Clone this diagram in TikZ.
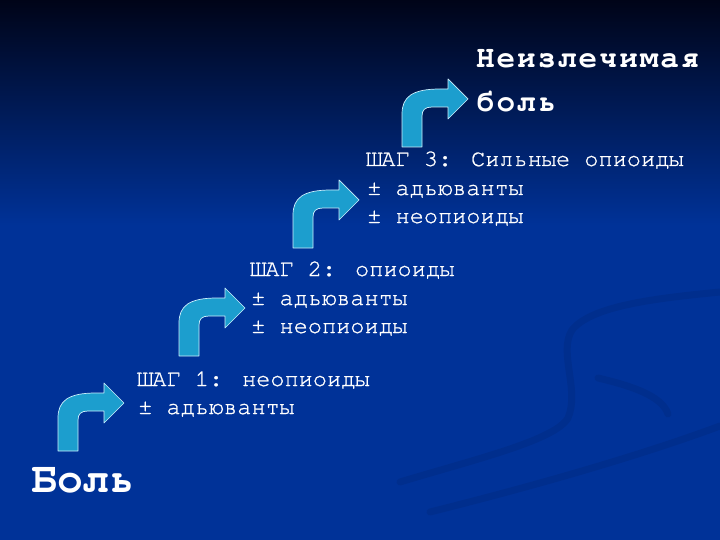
\documentclass[tikz,border=0pt]{standalone}
\usepackage{fontspec}
\setmonofont{FreeMono}
\newfontfamily\stepfont[FakeBold=1]{FreeMono}
\newfontfamily\goalfont[LetterSpace=6]{FreeMono}
\usetikzlibrary{positioning}

\definecolor{slidetop}{RGB}{0,4,24}
\definecolor{slidebot}{RGB}{0,50,152}
\definecolor{arrowblue}{RGB}{28,158,206}

\begin{document}
\begin{tikzpicture}[x=1pt, y=-1pt, line join=round]
    \tikzset{%
      apply style/.code  = {\tikzset{#1}},
      bent_arrow/.style  = {fill=arrowblue, draw=white!80!cyan, line width=0.7pt},
      swoosh/.style      = {line width=7pt, line cap=round, draw=black, opacity=0.07},
      step_text/.style   = {anchor=base west, inner sep=0pt, text=white,
                            font=\stepfont\fontsize{23.6}{28}\selectfont},
      pain_text/.style   = {anchor=base west, inner sep=0pt, text=white,
                            font=\ttfamily\bfseries\fontsize{43}{50}\selectfont},
      goal_text/.style   = {anchor=base west, inner sep=0pt, text=white,
                            font=\goalfont\bfseries\fontsize{31}{34}\selectfont}
    }
    \useasboundingbox (0,0) rectangle (720,540);

    % background
    \fill[slidebot] (0,0) rectangle (720,540);
    \shade[top color=slidetop, bottom color=slidebot] (0,0) rectangle (720,225);
    \draw[swoosh] (400,482) .. controls (480,458) and (555,440) .. (568,418)
                            .. controls (580,390) and (558,352) .. (572,330)
                            .. controls (592,305) and (660,298) .. (720,292);
    \draw[swoosh] (430,512) .. controls (550,482) and (650,452) .. (720,426);
    \draw[swoosh] (598,378) .. controls (632,386) and (662,396) .. (668,414);

    % the four bent arrows
    \foreach \bx/\by in {58/451, 179/356, 293/248, 402/147}{
      \begin{scope}[shift={(\bx,\by)}]
        \draw[bent_arrow]
          (0,0)                                          --
          (0,-33)  .. controls (0,-50) and (10,-58) .. (38,-58) --
          (46,-58)                                       -- % head, upper corner
          (46,-68)                                       --
          (66,-48)                                       -- % tip
          (46,-28)                                       --
          (46,-40)                                       --
          (30,-40) .. controls (23,-40) and (20,-37) .. (20,-31) --
          (20,0)                                         --
          cycle;
      \end{scope}
    }

    % texts
    \node[pain_text] (pain) at (31,492) {Боль};
    \foreach \nm/\tx/\ty/\txt in {%
        step1a/138/386/{ШАГ 1: неопиоиды},
        step1b/138/414/{± адьюванты},
        step2a/251/276/{ШАГ 2: опиоиды},
        step2b/251/305/{± адьюванты},
        step2c/251/333/{± неопиоиды},
        step3a/367/166/{ШАГ 3: Сильные опиоиды},
        step3b/367/195/{± адьюванты},
        step3c/367/223/{± неопиоиды}%
    }{
      \node[step_text] (\nm) at (\tx,\ty) {\txt};
    }
    \node[goal_text] (goal1) at (476,68)  {Неизлечимая};
    \node[goal_text] (goal2) at (476,112) {боль};
\end{tikzpicture}
\end{document}
